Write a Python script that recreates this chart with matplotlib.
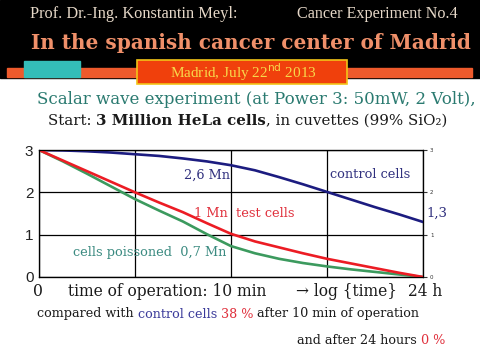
import matplotlib
matplotlib.use("Agg")
import matplotlib.pyplot as plt
from matplotlib.patches import Rectangle

# cell counts (millions) over time of operation
t = [0, 0.25, 0.5, 0.75, 1, 1.25, 1.5, 1.75, 2,
     2.25, 2.5, 2.75, 3, 3.25, 3.5, 3.75, 4]
control = [3.0, 2.99, 2.97, 2.94, 2.90, 2.86, 2.80, 2.73, 2.64,
           2.52, 2.36, 2.19, 2.01, 1.83, 1.65, 1.48, 1.30]
test = [3.0, 2.75, 2.5, 2.25, 2.0, 1.76, 1.53, 1.27, 1.02,
        0.84, 0.70, 0.56, 0.43, 0.32, 0.21, 0.10, 0.0]
poisoned = [3.0, 2.73, 2.44, 2.14, 1.84, 1.57, 1.31, 1.01, 0.73,
            0.56, 0.43, 0.33, 0.25, 0.18, 0.12, 0.06, 0.0]
yticks = [0, 1, 2, 3]

W, H = 481, 351
fig = plt.figure(figsize=(W / 100, H / 100), dpi=100)
fig.patch.set_facecolor("white")
R = fig.canvas.get_renderer()


def px(x, y):
    return x / W, 1 - y / H


def runs(x, y, parts, size, family="DejaVu Serif"):
    # place coloured / bold pieces of text one after the other
    for s, col, wt in parts:
        tx = fig.text(*px(x, y), s, color=col, fontsize=size, fontweight=wt,
                      family=family, ha="left", va="center")
        x += tx.get_window_extent(R).width


# header band
bg = fig.add_axes([0, 0, 1, 1])
bg.set_xlim(0, W)
bg.set_ylim(H, 0)
bg.axis("off")
bg.add_patch(Rectangle((0, 0), W, 78, color="black"))
bg.add_patch(Rectangle((7, 68), 465, 9, color="#ee5a2c"))
bg.add_patch(Rectangle((24, 61), 56, 16, color="#34bdb8"))
bg.add_patch(Rectangle((137, 60), 210, 24, facecolor="#f0400c",
                       edgecolor="#f2c418", lw=1.2))

fig.text(*px(30, 14), "Prof. Dr.-Ing. Konstantin Meyl:", color="#e6d8c8",
         fontsize=11.8, family="Liberation Serif", ha="left", va="center")
fig.text(*px(458, 14), "Cancer Experiment No.4", color="#e6d8c8",
         fontsize=11.6, family="Liberation Serif", ha="right", va="center")
fig.text(*px(251, 43), "In the spanish cancer center of Madrid", color="#f0906a",
         fontsize=14.4, family="DejaVu Serif", fontweight="bold",
         ha="center", va="center")
fig.text(*px(243, 72), "Madrid, July 22$^{\\mathrm{nd}}$ 2013", color="#f8d84a",
         fontsize=11, family="Liberation Serif", ha="center", va="center")

fig.text(*px(37, 100), "Scalar wave experiment (at Power 3: 50mW, 2 Volt),",
         color="#2a7a70", fontsize=12.0, family="DejaVu Serif",
         ha="left", va="center")
runs(48, 121, [("Start: ", "#1a1a1a", "normal"),
               ("3 Million HeLa cells", "#1a1a1a", "bold"),
               (", in cuvettes (99% SiO\u2082)", "#1a1a1a", "normal")], 10.8)

# chart
ax = fig.add_axes([39 / W, 1 - 277 / H, 384 / W, 127 / H])
ax.plot(t, control, color="#1c1c80", lw=1.9, zorder=3)
ax.plot(t, poisoned, color="#3c9a5e", lw=1.9, zorder=3)
ax.plot(t, test, color="#ec1c24", lw=1.9, zorder=4)
ax.set_xlim(0, 4)
ax.set_ylim(0, 3)
ax.set_xticks([0, 1, 2, 3, 4])
ax.set_yticks(yticks)
ax.grid(True, color="black", lw=0.9)
ax.tick_params(axis="x", length=0, labelbottom=False)
ax.tick_params(axis="y", length=0, labelsize=11, pad=4)
for lab in ax.get_yticklabels():
    lab.set_family("Liberation Sans")
    lab.set_color("#222222")
for sp in ax.spines.values():
    sp.set_color("black")
    sp.set_linewidth(0.9)

ax2 = ax.twinx()
ax2.set_ylim(0, 3)
ax2.set_yticks(yticks)
ax2.tick_params(axis="y", length=3, labelsize=4, pad=2, colors="#333333")

lab = dict(family="DejaVu Serif", fontsize=9.3, va="center")
ax.text(1.99, 2.41, "2,6 Mn", color="#30307e", ha="right", **lab)
ax.text(3.03, 2.43, "control cells", color="#30307e", ha="left", **lab)
ax.text(4.04, 1.51, "1,3", color="#30307e", ha="left", family="DejaVu Serif",
        fontsize=9.5, va="center", clip_on=False)
ax.text(1.97, 1.51, "1 Mn", color="#e0303c", ha="right", **lab)
ax.text(2.05, 1.51, "test cells", color="#e0303c", ha="left", **lab)
ax.text(1.95, 0.59, "cells poissoned  0,7 Mn", color="#3a8a80", ha="right", **lab)

# axis caption row
cap = dict(color="#1a1a1a", fontsize=11.2, family="DejaVu Serif",
           ha="left", va="center")
fig.text(*px(33, 292), "0", **cap)
fig.text(*px(68, 292), "time of operation: 10 min", **cap)
fig.text(*px(296, 292), "\u2192 log {time}", **cap)
fig.text(*px(408, 292), "24 h", **cap)

runs(37, 314, [("compared with ", "#1a1a1a", "normal"),
               ("control cells", "#3a3a9a", "normal"),
               (" 38 %", "#e0303c", "normal"),
               (" after 10 min of operation", "#1a1a1a", "normal")], 9.2)
runs(297, 340, [("and after 24 hours ", "#1a1a1a", "normal"),
                ("0 %", "#e0303c", "normal")], 9.2)

fig.savefig("out.png", dpi=100)
